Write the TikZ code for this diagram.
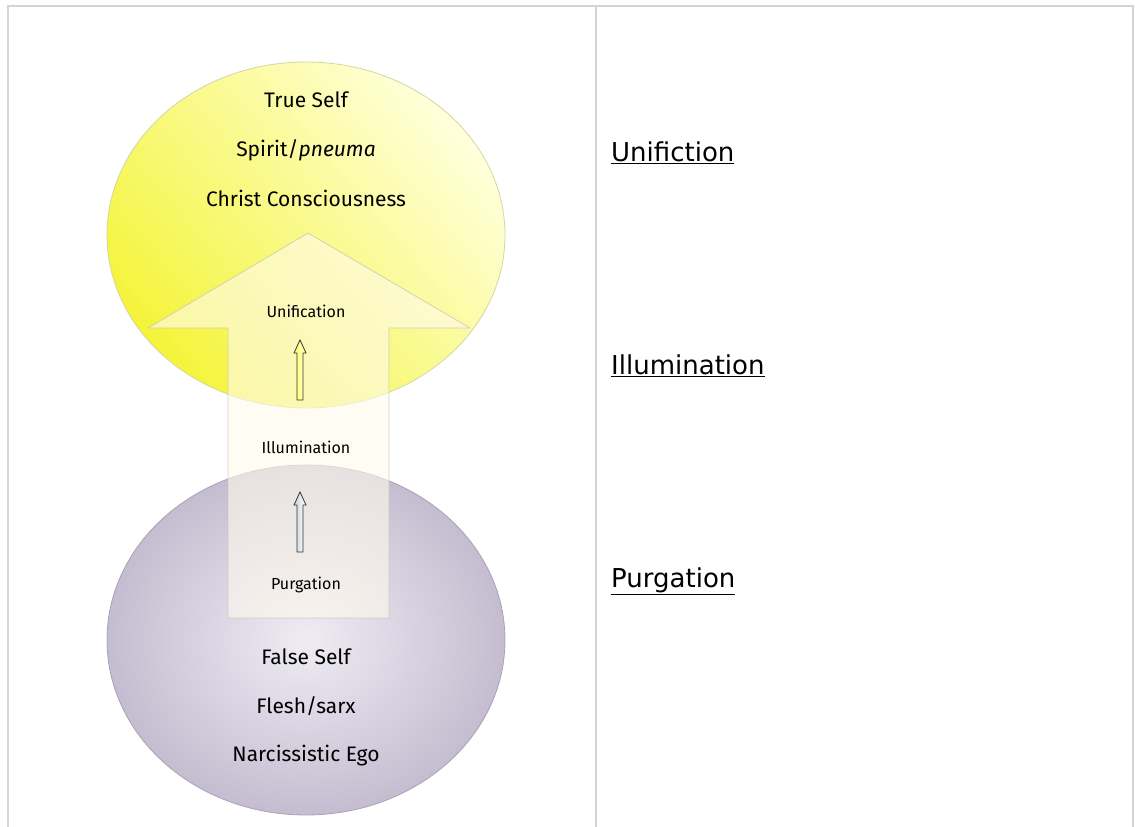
\documentclass[tikz,border=0pt]{standalone}
\usepackage{fontspec}
\setmainfont{DejaVu Sans}
\newfontfamily\comic{Fira Sans}
\usetikzlibrary{shapes.geometric}
\definecolor{frame}{HTML}{D4D4D4}
\definecolor{ydark}{HTML}{F4F43A}
\definecolor{ylight}{HTML}{FFFFDC}
\definecolor{yedge}{HTML}{D6D6A0}
\definecolor{pin}{HTML}{EFECF4}
\definecolor{pout}{HTML}{C4BDD0}
\definecolor{pedge}{HTML}{AAA2BA}
\definecolor{acream}{HTML}{FFFAEC}
\definecolor{aedge}{HTML}{C8C0B0}
\definecolor{sblue}{HTML}{C8D4DE}
\tikzset{
  frameline/.style={draw=frame, line width=2pt},
  biglabel/.style={font=\comic\fontsize{21}{24}\selectfont, inner sep=0pt, anchor=center},
  steplabel/.style={font=\comic\fontsize{16}{18}\selectfont, inner sep=0pt, anchor=center},
  rightlabel/.style={font=\fontsize{26}{29}\selectfont, inner sep=0pt, anchor=base west},
  smallarrow/.style={draw=black!80, line width=0.8pt, line join=miter},
}
\begin{document}
\begin{tikzpicture}[x=1pt,y=-1pt]
\useasboundingbox (0,0) rectangle (1135,827);
\fill[white] (0,0) rectangle (1135,827);
% frame
\draw[frameline] (8,827) -- (8,6) -- (1133,6) -- (1133,827);
\draw[frameline] (596,6) -- (596,827);
% yellow circle
\shade[top color=ylight, bottom color=ydark, shading angle=-50] (306,235) ellipse [x radius=199, y radius=173];
\draw[yedge, line width=0.8pt] (306,235) ellipse [x radius=199, y radius=173];
% purple ellipse
\shade[inner color=pin, outer color=pout] (306,640) ellipse [x radius=199, y radius=175];
\draw[pedge, line width=0.8pt] (306,640) ellipse [x radius=199, y radius=175];
% big arrow
\filldraw[fill=acream, fill opacity=0.6, draw=aedge, draw opacity=0.7, line width=0.8pt]
  (308,233) -- (470,328) -- (389,328) -- (389,618) -- (228,618) -- (228,328) -- (148,328) -- cycle;
% texts
\node[biglabel] (ts) at (306,100) {True Self};
\node[biglabel] (sp) at (306,150) {Spirit/\textit{pneuma}};
\node[biglabel] (cc) at (306,198) {Christ Consciousness};
\node[steplabel] (un) at (306,311) {Unification};
\node[steplabel] (il) at (306,447) {Illumination};
\node[steplabel] (pu) at (306,585) {Purgation};
\node[biglabel] (fs) at (306,657) {False Self};
\node[biglabel] (fl) at (306,706) {Flesh/sarx};
\node[biglabel] (ne) at (306,756) {Narcissistic Ego};
% small block arrows
\coordinate (a1t) at (300,340);
\coordinate (a1b) at (300,400);
\coordinate (a2t) at (300,492);
\coordinate (a2b) at (300,552);
\shade[left color=yellow!60, right color=yellow!20]
  (a1t) -- ++(6,13) -- ++(-3,0) -- (303,400) -- (297,400) -- (297,353) -- ++(-3,0) -- cycle;
\draw[smallarrow] (a1t) -- ++(6,13) -- ++(-3,0) -- (303,400) -- (297,400) -- (297,353) -- ++(-3,0) -- cycle;
\shade[left color=sblue, right color=white]
  (a2t) -- ++(6,13) -- ++(-3,0) -- (303,552) -- (297,552) -- (297,505) -- ++(-3,0) -- cycle;
\draw[smallarrow] (a2t) -- ++(6,13) -- ++(-3,0) -- (303,552) -- (297,552) -- (297,505) -- ++(-3,0) -- cycle;
% right column
\node[rightlabel] (r1) at (611,161) {\underline{Unifiction}};
\node[rightlabel] (r2) at (611,374) {\underline{Illumination}};
\node[rightlabel] (r3) at (611,587) {\underline{Purgation}};
\end{tikzpicture}
\end{document}
